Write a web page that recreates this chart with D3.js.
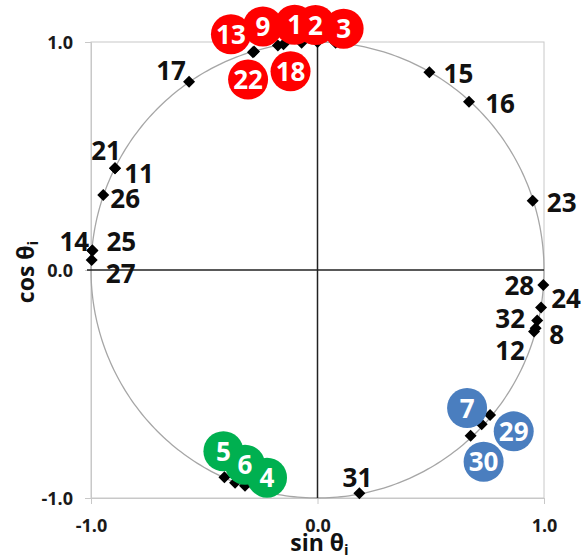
<!DOCTYPE html>
<html>
<head>
<meta charset="utf-8">
<script src="https://cdn.jsdelivr.net/npm/d3@7"></script>
<style>
  html, body { margin: 0; padding: 0; background: #fff; }
  svg { display: block; font-family: "Open Sans", "Liberation Sans", sans-serif; }
</style>
</head>
<body>
<div id="chart"></div>
<script>
// ---- data ----
const ids    = [1, 2, 3, 4, 5, 6, 7, 8, 9, 11, 12, 13, 14, 15, 16, 17, 18, 21, 22, 23, 24, 25, 26, 27, 28, 29, 30, 31, 32];
const sinVal = [-0.07, 0.0, 0.08, -0.32, -0.411, -0.364, 0.762, 0.963, -0.175, -0.894, 0.956, -0.285, -0.994, 0.494, 0.669, -0.567, -0.15, -0.894, -0.28, 0.95, 0.987, -0.994, -0.946, -0.997, 0.997, 0.725, 0.676, 0.185, 0.97];
const cosVal = [0.997, 1.0, 0.997, -0.946, -0.909, -0.933, -0.636, -0.255, 0.985, 0.446, -0.27, 0.955, 0.085, 0.867, 0.738, 0.826, 0.99, 0.446, 0.958, 0.304, -0.164, 0.085, 0.329, 0.044, -0.066, -0.677, -0.727, -0.979, -0.222];
const redGroup   = [13, 9, 1, 2, 3, 22, 18];
const greenGroup = [5, 6, 4];
const blueGroup  = [7, 29, 30];
const tickValues = [-1, 0, 1];
const tickLabels = ["-1.0", "0.0", "1.0"];
const xTitle = "sin θ", yTitle = "cos θ", subI = "i";

// ---- label placement (pixel offsets from the marker) ----
const labelOffset = {
  17: [-18, -2], 15: [29, 11], 16: [31, 11], 23: [29, 11],
  21: [-9, -8], 11: [24, 15], 26: [22, 13], 14: [-18, 0], 25: [29, 0], 27: [29, 23],
  28: [-24, 10], 24: [25, 1], 32: [-27, 7], 8: [21, 16], 12: [-24, 28], 31: [-2, -6]
};
const badgeOffset = {
  13: [-22, -18], 9: [-15, -19], 1: [-7, -18], 2: [-2, -17], 3: [8, -14],
  22: [-6, 28], 18: [7, 27],
  5: [-1, -26], 6: [10, -18], 4: [22, -8],
  7: [-23, -7], 29: [32, 7], 30: [13, 26]
};

const W = 581, H = 560;
const svg = d3.select("#chart").append("svg").attr("width", W).attr("height", H);

const x = d3.scaleLinear().domain([-1, 1]).range([91, 544]);
const y = d3.scaleLinear().domain([-1, 1]).range([498, 42]);

const points = ids.map((id, i) => ({ id, s: sinVal[i], c: cosVal[i] }));
const byId = new Map(points.map(p => [p.id, p]));

// plot frame
svg.append("rect")
  .attr("x", x(-1)).attr("y", y(1))
  .attr("width", x(1) - x(-1)).attr("height", y(-1) - y(1))
  .attr("fill", "none").attr("stroke", "#c8c8c8").attr("stroke-width", 1);

// axes (gray ticks outside)
const gL = svg.append("g").attr("transform", `translate(${x(-1)},0)`)
  .call(d3.axisLeft(y).tickValues(tickValues).tickSize(6).tickFormat((d, i) => tickLabels[i]).tickPadding(12));
const gB = svg.append("g").attr("transform", `translate(0,${y(-1)})`)
  .call(d3.axisBottom(x).tickValues(tickValues).tickSize(6).tickFormat((d, i) => tickLabels[i]).tickPadding(15));
[gL, gB].forEach(g => {
  g.select(".domain").attr("stroke", "#c8c8c8");
  g.selectAll(".tick line").attr("stroke", "#c8c8c8");
  g.selectAll("text").attr("font-family", "Open Sans, sans-serif").attr("font-size", 18)
    .attr("font-weight", 700).attr("fill", "#1a1a1a");
});
gL.selectAll("text").attr("dy", "0.36em");

// unit circle
const circ = d3.range(0, 361, 1).map(a => [Math.sin(a * Math.PI / 180), Math.cos(a * Math.PI / 180)]);
svg.append("path")
  .attr("d", d3.line().x(d => x(d[0])).y(d => y(d[1]))(circ))
  .attr("fill", "none").attr("stroke", "#a6a6a6").attr("stroke-width", 1.3);

// zero lines
svg.append("line").attr("x1", x(-1) - 4).attr("x2", x(1)).attr("y1", y(0)).attr("y2", y(0))
  .attr("stroke", "#222").attr("stroke-width", 1.5);
svg.append("line").attr("x1", x(0)).attr("x2", x(0)).attr("y1", y(1)).attr("y2", y(-1))
  .attr("stroke", "#222").attr("stroke-width", 1.5);

// markers
svg.append("g").selectAll("path").data(points).join("path")
  .attr("d", p => {
    const cx = x(p.s), cy = y(p.c), r = 6;
    return `M${cx},${cy - r}L${cx + r},${cy}L${cx},${cy + r}L${cx - r},${cy}Z`;
  })
  .attr("fill", "#000");

// black labels
svg.append("g").selectAll("text").data(Object.keys(labelOffset).map(Number)).join("text")
  .attr("x", id => x(byId.get(id).s) + labelOffset[id][0])
  .attr("y", id => y(byId.get(id).c) + labelOffset[id][1])
  .attr("text-anchor", "middle")
  .attr("font-size", 26).attr("font-weight", 700).attr("fill", "#111")
  .text(id => id);

// badges
const groups = [[redGroup, "#ff0000"], [greenGroup, "#00b050"], [blueGroup, "#4a7ebf"]];
const badges = [];
groups.forEach(([g, col]) => g.forEach(id => badges.push({ id, col })));
const bx = b => x(byId.get(b.id).s) + badgeOffset[b.id][0];
const by = b => y(byId.get(b.id).c) + badgeOffset[b.id][1];
svg.append("g").selectAll("circle").data(badges).join("circle")
  .attr("cx", bx).attr("cy", by).attr("r", 20).attr("fill", b => b.col);
svg.append("g").selectAll("text").data(badges).join("text")
  .attr("x", bx).attr("y", b => by(b) + 9.5)
  .attr("text-anchor", "middle")
  .attr("font-size", 26).attr("font-weight", 700).attr("fill", "#fff")
  .text(b => b.id);

// axis titles
const xt = svg.append("text").attr("x", x(0) + 2).attr("y", 551)
  .attr("text-anchor", "middle").attr("font-size", 23).attr("font-weight", 700).attr("fill", "#111");
xt.append("tspan").text(xTitle);
xt.append("tspan").attr("font-size", 15).attr("dy", 4).text(subI);

const yt = svg.append("text").attr("transform", `translate(34,${y(0) + 2}) rotate(-90)`)
  .attr("text-anchor", "middle").attr("font-size", 23).attr("font-weight", 700).attr("fill", "#111");
yt.append("tspan").text(yTitle);
yt.append("tspan").attr("font-size", 15).attr("dy", 4).text(subI);
</script>
</body>
</html>
